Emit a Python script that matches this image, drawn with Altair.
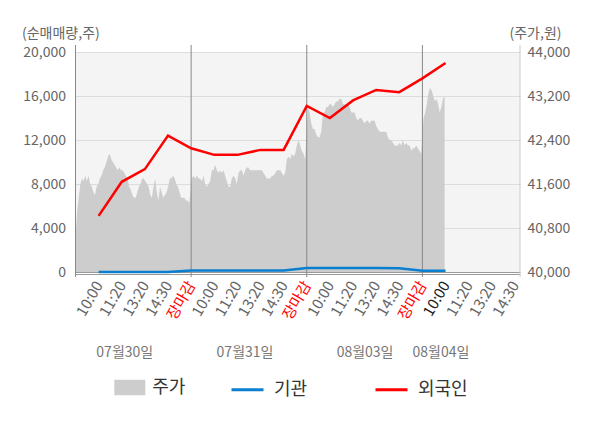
import json
import altair as alt
import pandas as pd

FONT = "Noto Sans CJK KR"

# ---------------- data ----------------
tick_values = list(range(1, 20))
tick_labels = ["",
               "10:00", "11:20", "13:20", "14:30", "장마감",
               "10:00", "11:20", "13:20", "14:30", "장마감",
               "10:00", "11:20", "13:20", "14:30", "장마감",
               "10:00", "11:20", "13:20", "14:30"]
day_labels = ["07월30일", "07월31일", "08월03일", "08월04일"]
day_label_pos = [2.13, 7.33, 12.52, 15.8]
day_bounds = [0, 5, 10, 15]
x_max = 19.22

flow_slots = list(range(1, 17))
foreign = [5100, 8200, 9350, 12400, 11250, 10650, 10650, 11100, 11100,
           15100, 14000, 15600, 16550, 16350, 17600, 19000]
institution = [0, 0, 0, 0, 130, 140, 140, 140, 140,
               370, 370, 370, 370, 330, 120, 110]

price_day1 = [40650, 41100, 41350, 41600, 41700, 41650, 41750, 41650, 41750, 41600,
              41550, 41450, 41400, 41550, 41600, 41700, 41750, 41850, 41900, 42000,
              42100, 42150, 42050, 42000, 41950, 41900, 41850, 41900, 41850, 41850,
              41800, 41750, 41700, 41550, 41500, 41400, 41350, 41350, 41450, 41550,
              41600, 41700, 41700, 41650, 41600, 41550, 41400, 41350, 41550, 41700,
              41450, 41300, 41550, 41450, 41350, 41400, 41450, 41550, 41700, 41700,
              41750, 41700, 41600, 41550, 41450, 41350, 41350, 41350, 41300, 41300, 41250]
price_day2 = [41700, 41750, 41700, 41750, 41700, 41700, 41650, 41750, 41600, 41550,
              41600, 41650, 41850, 41850, 41950, 41850, 41800, 41850, 41800, 41850,
              41750, 41650, 41550, 41550, 41700, 41750, 41700, 41600, 41800, 41850,
              41850, 41750, 41850, 41900, 41900, 41850, 41850, 41850, 41850, 41850,
              41850, 41850, 41850, 41800, 41750, 41700, 41700, 41700, 41750, 41750,
              41800, 41850, 41850, 41850, 41800, 41750, 41800, 42050, 42100, 42050,
              42150, 42100, 42150, 42300, 42400, 42300, 42200, 42150, 42050]
price_day3 = [43000, 42900, 42700, 42600, 42600, 42500, 42450, 42450, 42550, 42900,
              42900, 43000, 43000, 43050, 43050, 43000, 43050, 43100, 43100, 43150,
              43150, 43050, 43050, 43000, 43050, 43000, 42900, 42900, 42900, 42800,
              42750, 42800, 42800, 42750, 42700, 42750, 42750, 42700, 42750, 42750,
              42750, 42650, 42600, 42550, 42550, 42550, 42550, 42550, 42450, 42400,
              42400, 42350, 42300, 42300, 42300, 42350, 42300, 42400, 42300, 42350,
              42300, 42300, 42200, 42250, 42250, 42300, 42250, 42200, 42150]
price_day4 = [42800, 42900, 43050, 43250, 43350, 43300, 43200, 43100, 43150, 43050,
              42900, 43000, 43150, 43200]
price_spans = [(0.0, 4.92), (5.03, 9.93), (10.05, 14.95), (15.05, 15.96)]

# ---------------- tables ----------------
rows = []
for prices, (s, e) in zip([price_day1, price_day2, price_day3, price_day4], price_spans):
    n = len(prices)
    for i, p in enumerate(prices):
        rows.append({"u": s + i * (e - s) / (n - 1), "price": p, "s": "주가"})
price_df = pd.DataFrame(rows)

flow_df = pd.DataFrame(
    [{"u": u, "v": v, "series": "기관"} for u, v in zip(flow_slots, institution)] +
    [{"u": u, "v": v, "series": "외국인"} for u, v in zip(flow_slots, foreign)]
)
sep_df = pd.DataFrame({"u": day_bounds})
edge_df = pd.DataFrame({"u": [x_max]})
date_df = pd.DataFrame({"u": day_label_pos, "label": day_labels})

W, H = 444.5, 220

xscale = alt.Scale(domain=[0, x_max], nice=False, zero=False)
x_axis = alt.Axis(
    values=tick_values,
    labelExpr=json.dumps(tick_labels, ensure_ascii=False) + "[datum.value]",
    labelAngle=-60, labelAlign="right", labelBaseline="middle",
    labelFontSize=15, labelFont=FONT, labelPadding=8,
    labelOverlap=False, labelBound=False, labelFlush=False,
    labelColor={"condition": [{"test": "datum.value % 5 == 0", "value": "#ff0000"},
                              {"test": "datum.value == 16", "value": "#222222"}],
                "value": "#666666"},
    ticks=False, grid=False, domainColor="#999999", offset=2, title=None,
)
X = alt.X("u:Q", scale=xscale, axis=x_axis)

area = alt.Chart(price_df).mark_area().encode(
    x=X,
    y=alt.Y("price:Q", scale=alt.Scale(domain=[40000, 44000], nice=False, zero=False),
            axis=alt.Axis(orient="right", values=[40000, 40800, 41600, 42400, 43200, 44000],
                          format=",d", labelFontSize=14, labelColor="#666666", labelPadding=7,
                          ticks=False, domain=False, grid=False,
                          title="(주가,원)", titleAngle=0, titleAlign="left",
                          titleBaseline="middle", titleX=-11, titleY=-19,
                          titleFontSize=14, titleFontWeight="normal", titleColor="#666666")),
    y2=alt.datum(40000),
    fill=alt.Fill("s:N", scale=alt.Scale(domain=["주가"], range=["#cdcdcd"]),
                  legend=alt.Legend(orient="none", legendX=38.8, legendY=320, title=None,
                                    symbolType="M-1,-0.5H1V0.5H-1Z", symbolSize=961,
                                    symbolStrokeWidth=0, labelFontSize=18, labelColor="#333333",
                                    labelOffset=7, padding=0)),
)

seps = alt.Chart(sep_df).mark_rule(color="#888888", strokeWidth=1).encode(
    x=X, y=alt.value(-7), y2=alt.value(H + 5))
edge = alt.Chart(edge_df).mark_rule(color="#cccccc", strokeWidth=1).encode(
    x=X, y=alt.value(-7), y2=alt.value(H + 5))

lines = alt.Chart(flow_df).mark_line(strokeWidth=2.5).encode(
    x=X,
    y=alt.Y("v:Q", scale=alt.Scale(domain=[0, 20000], nice=False),
            axis=alt.Axis(orient="left", values=[0, 4000, 8000, 12000, 16000, 20000],
                          format=",d", labelFontSize=14, labelColor="#666666", labelPadding=10,
                          ticks=False, domain=False, grid=True,
                          gridColor={"condition": {"test": "datum.value == 0", "value": "#999999"},
                                     "value": "#dcdcdc"},
                          title="(순매매량,주)", titleAngle=0, titleAlign="left",
                          titleBaseline="middle", titleX=-54, titleY=-19,
                          titleFontSize=14, titleFontWeight="normal", titleColor="#666666")),
    stroke=alt.Stroke("series:N", scale=alt.Scale(domain=["기관", "외국인"],
                                                  range=["#0a7fd0", "#ff0000"]),
                      legend=alt.Legend(orient="none", legendX=154.5, legendY=320, title=None,
                                        direction="horizontal", symbolType="stroke",
                                        symbolSize=1024, symbolStrokeWidth=3,
                                        labelFontSize=18, labelColor="#333333",
                                        labelOffset=9, columnPadding=61, padding=0)),
)

dates = alt.Chart(date_df).mark_text(fontSize=14, color="#777777", align="center",
                                     baseline="middle").encode(
    x=X, y=alt.value(301), text="label:N")

chart = alt.layer(area, seps, edge, lines, dates).resolve_scale(
    y="independent"
).properties(
    width=W, height=H,
    padding={"left": 67.5, "top": 44, "right": 72, "bottom": 148},
    autosize=alt.AutoSizeParams(type="none"),
).configure_view(
    fill="#f4f4f4", stroke=None
).configure_axis(
    labelFont=FONT, titleFont=FONT
).configure_axisX(
    labelFontSize=15
).configure_legend(
    labelFont=FONT
).configure_text(
    font=FONT
)

chart.save("out.html", embed_options={"renderer": "svg", "actions": False})
